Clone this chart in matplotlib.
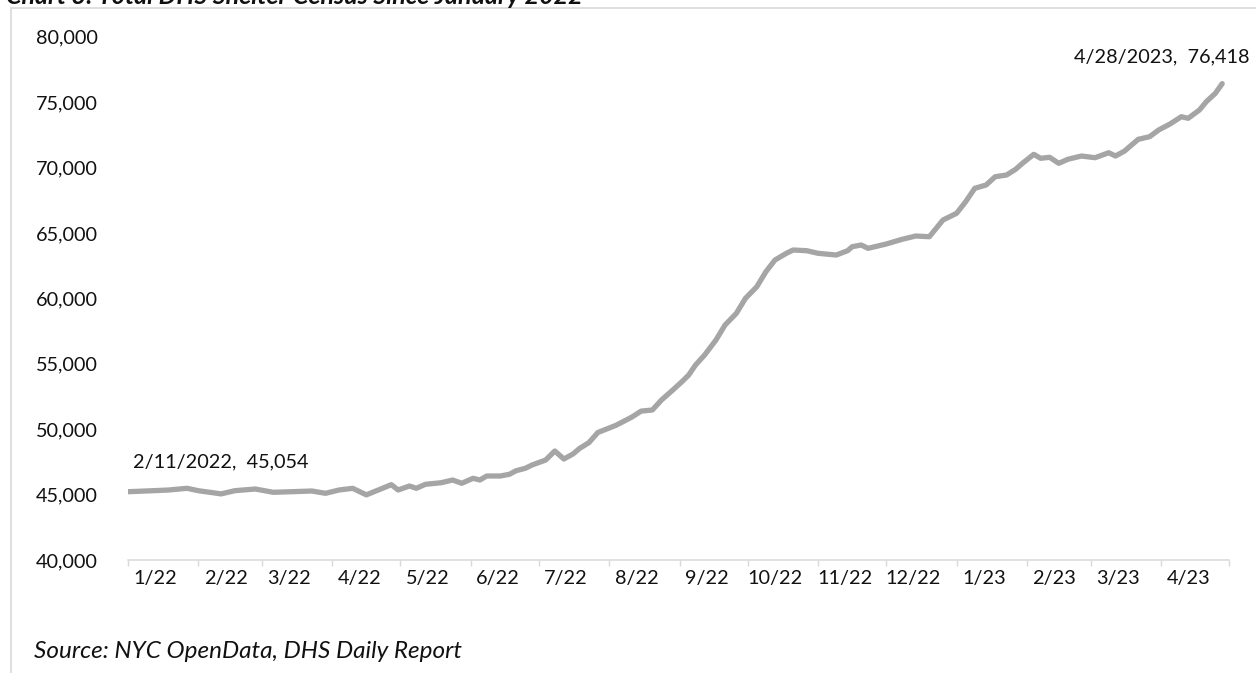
import matplotlib
matplotlib.use('Agg')
import matplotlib.pyplot as plt
from matplotlib.patches import Rectangle
from matplotlib.ticker import FuncFormatter
import pandas as pd

# Dane: dzienny stan schronisk DHS
dates = [
    '2022-01-01', '2022-01-12', '2022-01-19', '2022-01-27', '2022-02-01', '2022-02-11',
    '2022-02-17', '2022-02-26', '2022-03-06', '2022-03-14', '2022-03-23', '2022-03-29',
    '2022-04-04', '2022-04-10', '2022-04-16', '2022-04-22', '2022-04-27', '2022-04-30',
    '2022-05-05', '2022-05-08', '2022-05-12', '2022-05-19', '2022-05-24', '2022-05-28',
    '2022-06-02', '2022-06-05', '2022-06-08', '2022-06-14', '2022-06-18', '2022-06-21',
    '2022-06-25', '2022-06-28', '2022-07-04', '2022-07-08', '2022-07-12', '2022-07-16',
    '2022-07-19', '2022-07-23', '2022-07-27', '2022-08-04', '2022-08-11', '2022-08-15',
    '2022-08-20', '2022-08-24', '2022-08-29', '2022-09-02', '2022-09-05', '2022-09-08',
    '2022-09-12', '2022-09-17', '2022-09-21', '2022-09-26', '2022-09-30', '2022-10-05',
    '2022-10-09', '2022-10-13', '2022-10-18', '2022-10-21', '2022-10-27', '2022-11-01',
    '2022-11-09', '2022-11-14', '2022-11-16', '2022-11-20', '2022-11-23', '2022-12-01',
    '2022-12-08', '2022-12-14', '2022-12-20', '2022-12-26', '2023-01-01', '2023-01-05',
    '2023-01-09', '2023-01-14', '2023-01-18', '2023-01-23', '2023-01-27', '2023-01-30',
    '2023-02-04', '2023-02-07', '2023-02-11', '2023-02-15', '2023-02-19', '2023-02-25',
    '2023-03-03', '2023-03-09', '2023-03-12', '2023-03-16', '2023-03-22', '2023-03-27',
    '2023-03-31', '2023-04-05', '2023-04-10', '2023-04-13', '2023-04-18', '2023-04-21',
    '2023-04-25', '2023-04-28',
]
census = [
    45221, 45298, 45352, 45481, 45298, 45054,
    45298, 45428, 45176, 45221, 45275, 45099,
    45352, 45481, 44980, 45405, 45760, 45352,
    45657, 45481, 45787, 45910, 46116, 45864,
    46246, 46116, 46422, 46422, 46552, 46827,
    47010, 47263, 47645, 48333, 47721, 48104,
    48539, 48968, 49750, 50300, 50930, 51380,
    51470, 52232, 52997, 53631, 54143, 54908,
    55672, 56819, 57966, 58860, 60007, 60894,
    62041, 62935, 63447, 63700, 63646, 63447,
    63317, 63646, 63952, 64082, 63829, 64158,
    64517, 64770, 64716, 65993, 66505, 67392,
    68416, 68669, 69303, 69433, 69869, 70328,
    71016, 70711, 70787, 70328, 70634, 70886,
    70756, 71138, 70886, 71268, 72163, 72361,
    72873, 73332, 73890, 73768, 74408, 75039,
    75681, 76418,
]
month_labels = ['1/22', '2/22', '3/22', '4/22', '5/22', '6/22', '7/22', '8/22',
                '9/22', '10/22', '11/22', '12/22', '1/23', '2/23', '3/23', '4/23']

first_label = '2/11/2022,  45,054'
last_label = '4/28/2023,  76,418'

plt.rcParams['font.family'] = ['Lato', 'DejaVu Sans']
W, H = 1256, 673
fs = 14.3

fig = plt.figure(figsize=(W / 100, H / 100), dpi=100)
ax = fig.add_axes([128 / W, 1 - 560 / H, (1229 - 128) / W, (560 - 36.8) / H])

x = pd.to_datetime(dates)
ax.plot(x, census, color='#A5A5A5', lw=3.8, solid_joinstyle='round', solid_capstyle='round')

month_starts = pd.date_range('2022-01-01', '2023-05-01', freq='MS')
ax.set_xlim(month_starts[0], month_starts[-1])
ax.set_ylim(40000, 80000)

# Oś Y
ax.set_yticks(range(40000, 80001, 5000))
ax.yaxis.set_major_formatter(FuncFormatter(lambda v, p: f'{v:,.0f}'))
ax.tick_params(axis='y', length=0, pad=21.6, labelsize=fs, labelcolor='#111111')

# Oś X: kreski na początku miesiąca, etykiety w środku miesiąca
ax.set_xticks(month_starts)
ax.set_xticklabels([])
ax.set_xticks(month_starts[:-1] + pd.Timedelta(days=12), minor=True)
ax.set_xticklabels(month_labels, minor=True)
ax.tick_params(axis='x', which='major', length=4.5, width=1, color='#D9D9D9')
ax.tick_params(axis='x', which='minor', length=0, pad=7, labelsize=fs, labelcolor='#111111')

for s in ['left', 'top', 'right']:
    ax.spines[s].set_visible(False)
ax.spines['bottom'].set_color('#D9D9D9')
ax.spines['bottom'].set_linewidth(1.1)

# Etykiety danych
ax.annotate(first_label, (pd.Timestamp(dates[5]), census[5]), xytext=(0, 23),
            textcoords='offset points', ha='center', va='center', fontsize=fs, color='#111111')
ax.annotate(last_label, (pd.Timestamp(dates[-1]), census[-1]), xytext=(20, 19),
            textcoords='offset points', ha='right', va='center', fontsize=fs, color='#111111')

# Ramka wykresu i tytuł (ucięty u góry, jak w oryginale)
fig.patches.append(Rectangle((10.5 / W, -0.05), 1.2, 1.05 - 8.5 / H, transform=fig.transFigure,
                             fill=False, ec='#D9D9D9', lw=1.2))
fig.text(6 / W, 1 - 4.5 / H, 'Chart 3: Total DHS Shelter Census Since January 2022',
         fontsize=18, fontweight='bold', style='italic', va='baseline', color='#111111')
fig.text(34 / W, 1 - 652 / H, 'Source: NYC OpenData, DHS Daily Report',
         fontsize=17.5, style='italic', va='center', color='#111111')

fig.savefig('out.png', dpi=100)
